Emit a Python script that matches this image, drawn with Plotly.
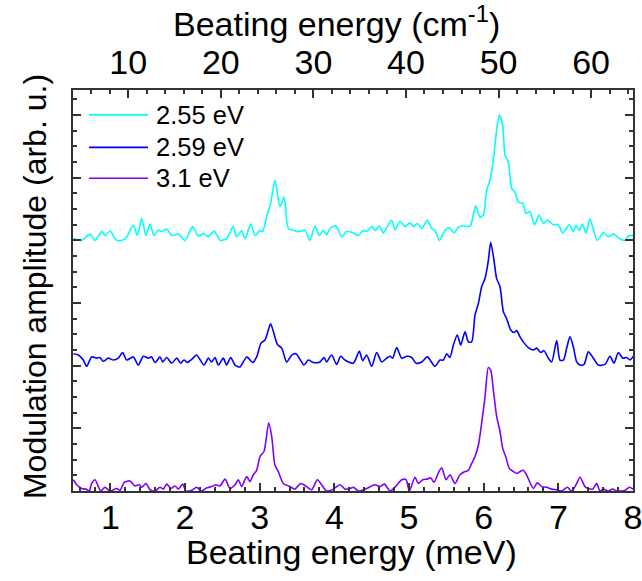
import plotly.graph_objects as go

# ---------------- data ----------------
labels = ["2.55 eV", "2.59 eV", "3.1 eV"]
colors = ["#00FFFF", "#0000FF", "#8000FF"]

# 2.55 eV (plotted with vertical offset of 4)
x_255 = [0.505, 0.616, 0.728, 0.795, 0.884, 0.929, 0.996, 1.085, 1.197, 1.308, 1.362, 1.420, 1.478,
         1.531, 1.585, 1.643, 1.688, 1.755, 1.822, 1.911, 2.000, 2.103, 2.179, 2.246, 2.313, 2.389,
         2.469, 2.558, 2.647, 2.692, 2.759, 2.804, 2.880, 2.938, 3.005, 3.040, 3.094, 3.147, 3.205,
         3.272, 3.326, 3.384, 3.451, 3.518, 3.607, 3.674, 3.741, 3.799, 3.853, 3.897, 3.942, 4.022,
         4.098, 4.165, 4.255, 4.322, 4.388, 4.433, 4.500, 4.545, 4.603, 4.656, 4.701, 4.768, 4.813,
         4.880, 4.947, 5.013, 5.058, 5.112, 5.170, 5.246, 5.304, 5.348, 5.406, 5.482, 5.540, 5.603,
         5.661, 5.719, 5.772, 5.826, 5.893, 5.951, 5.996, 6.040, 6.085, 6.130, 6.175, 6.210, 6.255,
         6.286, 6.331, 6.375, 6.420, 6.465, 6.523, 6.567, 6.621, 6.679, 6.741, 6.799, 6.853, 6.933,
         7.000, 7.058, 7.147, 7.201, 7.237, 7.281, 7.322, 7.371, 7.424, 7.522, 7.603, 7.670, 7.746,
         7.817, 7.893, 7.938, 8.004]
y_255 = [4.03, 4.00, 4.10, 4.00, 4.14, 4.08, 4.15, 4.00, 4.02, 4.24, 4.08, 4.35, 4.08,
         4.26, 4.08, 4.16, 4.14, 4.18, 4.08, 4.10, 4.00, 4.22, 4.07, 4.11, 4.06, 4.15,
         4.00, 4.03, 4.22, 4.06, 4.15, 4.03, 4.26, 4.08, 4.16, 4.14, 4.38, 4.59, 4.96,
         4.54, 4.69, 4.19, 4.16, 4.14, 4.16, 4.00, 4.23, 4.08, 4.16, 4.09, 4.19, 4.23,
         4.06, 4.14, 4.12, 4.08, 4.16, 4.14, 4.22, 4.16, 4.23, 4.12, 4.20, 4.32, 4.17,
         4.30, 4.22, 4.28, 4.22, 4.27, 4.19, 4.32, 4.19, 4.16, 4.00, 4.16, 4.20, 4.12,
         4.21, 4.23, 4.22, 4.24, 4.55, 4.37, 4.40, 4.80, 4.96, 5.28, 5.78, 6.00, 5.84,
         5.36, 5.25, 4.83, 4.77, 4.61, 4.59, 4.43, 4.46, 4.25, 4.40, 4.27, 4.32, 4.25,
         4.25, 4.12, 4.25, 4.14, 4.24, 4.16, 4.26, 4.12, 4.34, 4.00, 4.12, 4.06, 4.10,
         4.03, 4.00, 4.07, 4.08]

# 2.59 eV (plotted with vertical offset of 2)
x_259 = [0.505, 0.572, 0.638, 0.683, 0.750, 0.817, 0.862, 0.906, 0.973, 1.040, 1.107, 1.165, 1.219,
         1.308, 1.375, 1.442, 1.509, 1.554, 1.598, 1.665, 1.701, 1.755, 1.822, 1.889, 1.942, 1.987,
         2.031, 2.089, 2.156, 2.254, 2.313, 2.357, 2.402, 2.447, 2.513, 2.558, 2.612, 2.670, 2.737,
         2.826, 2.906, 2.960, 3.018, 3.072, 3.116, 3.147, 3.192, 3.237, 3.295, 3.362, 3.429, 3.487,
         3.540, 3.594, 3.652, 3.719, 3.808, 3.862, 3.897, 3.964, 4.031, 4.085, 4.143, 4.255, 4.335,
         4.380, 4.433, 4.500, 4.567, 4.634, 4.701, 4.746, 4.781, 4.835, 4.902, 4.969, 5.036, 5.094,
         5.170, 5.246, 5.348, 5.415, 5.460, 5.505, 5.549, 5.594, 5.647, 5.692, 5.750, 5.795, 5.839,
         5.884, 5.929, 5.973, 6.018, 6.063, 6.094, 6.138, 6.174, 6.219, 6.264, 6.308, 6.362, 6.407,
         6.442, 6.487, 6.531, 6.598, 6.665, 6.710, 6.763, 6.808, 6.866, 6.911, 6.978, 7.022, 7.067,
         7.112, 7.156, 7.201, 7.246, 7.290, 7.344, 7.402, 7.469, 7.536, 7.625, 7.692, 7.746, 7.804,
         7.862, 7.915, 7.960, 8.004]
y_259 = [2.19, 2.17, 2.09, 1.99, 2.14, 2.12, 2.13, 2.07, 2.12, 2.09, 2.12, 2.21, 2.09,
         2.14, 2.01, 2.15, 2.12, 2.14, 2.05, 2.14, 2.06, 2.13, 2.04, 2.12, 2.04, 2.09,
         2.05, 2.10, 2.17, 2.01, 2.12, 2.06, 2.13, 2.01, 2.12, 2.01, 2.13, 2.01, 1.98,
         2.14, 2.05, 2.14, 2.36, 2.41, 2.57, 2.67, 2.51, 2.34, 2.28, 2.06, 2.17, 2.19,
         2.10, 2.01, 2.09, 2.05, 2.06, 2.13, 2.06, 2.17, 2.02, 2.15, 2.09, 2.04, 2.23,
         2.08, 2.17, 1.99, 2.21, 2.06, 2.12, 2.15, 2.12, 2.29, 2.12, 2.15, 2.13, 2.04,
         2.06, 2.14, 1.99, 2.09, 2.09, 2.19, 2.13, 2.33, 2.49, 2.33, 2.54, 2.38, 2.38,
         2.81, 2.99, 3.26, 3.39, 3.68, 3.97, 3.68, 3.39, 3.26, 2.86, 2.75, 2.57, 2.53,
         2.56, 2.46, 2.38, 2.29, 2.25, 2.28, 2.21, 2.24, 2.12, 2.06, 2.40, 2.09, 2.09,
         2.28, 2.46, 2.30, 2.06, 2.01, 2.02, 2.22, 2.12, 2.01, 2.02, 2.15, 2.04, 2.21,
         2.12, 2.13, 2.09, 2.15]

# 3.1 eV (no offset)
x_31 = [0.505, 0.549, 0.616, 0.674, 0.719, 0.750, 0.795, 0.840, 0.871, 0.929, 0.996, 1.085, 1.129,
        1.188, 1.263, 1.330, 1.389, 1.420, 1.478, 1.531, 1.598, 1.665, 1.710, 1.755, 1.813, 1.866,
        1.911, 1.969, 2.013, 2.089, 2.156, 2.223, 2.290, 2.357, 2.415, 2.469, 2.536, 2.603, 2.670,
        2.714, 2.759, 2.826, 2.870, 2.915, 2.960, 3.004, 3.058, 3.085, 3.121, 3.161, 3.205, 3.250,
        3.317, 3.406, 3.473, 3.549, 3.629, 3.696, 3.772, 3.830, 3.897, 3.987, 4.076, 4.143, 4.210,
        4.255, 4.322, 4.433, 4.545, 4.612, 4.670, 4.746, 4.813, 4.902, 4.960, 5.005, 5.080, 5.125,
        5.183, 5.246, 5.290, 5.335, 5.393, 5.438, 5.496, 5.549, 5.616, 5.683, 5.750, 5.795, 5.839,
        5.884, 5.929, 5.973, 6.018, 6.063, 6.094, 6.130, 6.174, 6.219, 6.255, 6.295, 6.344, 6.398,
        6.442, 6.487, 6.531, 6.585, 6.665, 6.719, 6.777, 6.844, 6.911, 6.978, 7.045, 7.121, 7.179,
        7.246, 7.290, 7.357, 7.402, 7.460, 7.513, 7.558, 7.603, 7.670, 7.728, 7.781, 7.835, 7.893,
        7.951, 8.004]
y_31 = [0.18, 0.10, 0.04, 0.03, 0.00, 0.12, 0.18, 0.07, 0.00, 0.06, 0.00, 0.04, 0.01,
        0.14, 0.16, 0.08, 0.10, 0.06, 0.12, 0.02, 0.00, 0.06, 0.03, 0.11, 0.04, 0.08,
        0.03, 0.11, 0.00, 0.01, 0.06, 0.00, 0.05, 0.07, 0.10, 0.08, 0.19, 0.04, 0.10,
        0.18, 0.07, 0.23, 0.15, 0.26, 0.33, 0.55, 0.63, 0.81, 1.09, 0.87, 0.41, 0.31,
        0.12, 0.07, 0.03, 0.12, 0.07, 0.02, 0.18, 0.10, 0.00, 0.03, 0.10, 0.03, 0.04,
        0.06, 0.00, 0.04, 0.10, 0.07, 0.11, 0.00, 0.06, 0.18, 0.18, 0.00, 0.22, 0.12,
        0.18, 0.19, 0.21, 0.14, 0.29, 0.37, 0.18, 0.26, 0.12, 0.26, 0.31, 0.33, 0.44,
        0.55, 0.73, 1.08, 1.50, 1.97, 1.93, 1.61, 1.19, 0.95, 0.68, 0.55, 0.36, 0.31,
        0.28, 0.31, 0.33, 0.23, 0.04, 0.13, 0.07, 0.06, 0.03, 0.02, 0.00, 0.06, 0.00,
        0.12, 0.22, 0.07, 0.04, 0.03, 0.12, 0.00, 0.03, 0.00, 0.03, 0.00, 0.00, 0.01,
        0.06, 0.03]

xs = [x_255, x_259, x_31]
ys = [y_255, y_259, y_31]

# axis settings
x_range = [0.5, 8.0]
y_range = [0.0, 6.4]
MEV_TO_CM = 8.0655
bottom_ticks = [1, 2, 3, 4, 5, 6, 7, 8]
top_ticks = [10, 20, 30, 40, 50, 60]

x_title = "Beating energy (meV)"
x2_title = "Beating energy (cm<sup>-1</sup>)"
y_title = "Modulation amplitude (arb. u.)"

FONT = "Liberation Sans, Arial, sans-serif"
AX = "#333333"
HSIZE = 34   # horizontal texts
VSIZE = 32   # vertical title

fig = go.Figure()
for lab, col, x, y in zip(labels, colors, xs, ys):
    fig.add_trace(go.Scatter(x=x, y=y, mode="lines", name=lab, showlegend=False,
                             line=dict(color=col, width=1.6, shape="spline", smoothing=0.7),
                             xaxis="x", yaxis="y"))

# invisible trace for the top (cm^-1) axis
fig.add_trace(go.Scatter(x=[x_range[0] * MEV_TO_CM, x_range[1] * MEV_TO_CM], y=[0, 0],
                         mode="lines", line=dict(width=0), opacity=0, showlegend=False,
                         hoverinfo="skip", xaxis="x2", yaxis="y"))

# manual legend (line sample + label), in paper coordinates
legend_rows = [0.938, 0.857, 0.780]
shapes = []
annotations = []
for lab, col, yr in zip(labels, colors, legend_rows):
    shapes.append(dict(type="line", xref="paper", yref="paper", x0=0.0286, x1=0.134, y0=yr, y1=yr,
                       line=dict(color=col, width=1.6)))
    annotations.append(dict(xref="paper", yref="paper", x=0.145, y=yr, xanchor="left", yanchor="middle",
                            text=lab, showarrow=False, font=dict(size=25.5, color="black")))

# axis titles as annotations (for exact placement)
annotations.append(dict(xref="paper", yref="paper", x=0.498, y=-0.152, xanchor="center", yanchor="middle",
                        text=x_title, showarrow=False, font=dict(size=HSIZE, color="black")))
annotations.append(dict(xref="paper", yref="paper", x=0.471, y=1.172, xanchor="center", yanchor="middle",
                        text=x2_title, showarrow=False, font=dict(size=HSIZE, color="black")))
annotations.append(dict(xref="paper", yref="paper", x=-0.0679, y=0.511, xanchor="center", yanchor="middle",
                        text=y_title, textangle=-90, showarrow=False, font=dict(size=VSIZE, color="black")))

fig.update_layout(
    width=642, height=581,
    margin=dict(l=73, r=9, t=90, b=90, autoexpand=False),
    paper_bgcolor="white", plot_bgcolor="white",
    font=dict(family=FONT, size=HSIZE, color="black"),
    showlegend=False,
    shapes=shapes, annotations=annotations,
    xaxis=dict(range=x_range, tickvals=bottom_ticks, ticks="inside", ticklen=8, tickwidth=1.5,
               tickcolor=AX, showline=True, linecolor=AX, linewidth=2, showgrid=False,
               zeroline=False, tickfont=dict(size=HSIZE), mirror=False, automargin=False,
               ticklabeloverflow="allow", ticklabelstandoff=-5,
               minor=dict(dtick=0.2, tick0=0, ticks="inside", ticklen=4, tickcolor=AX, tickwidth=1.5)),
    xaxis2=dict(range=[x_range[0] * MEV_TO_CM, x_range[1] * MEV_TO_CM], overlaying="x", side="top",
                tickvals=top_ticks, ticks="inside", ticklen=8, tickwidth=1.5, tickcolor=AX,
                showline=True, linecolor=AX, linewidth=2, showgrid=False, zeroline=False,
                tickfont=dict(size=HSIZE), automargin=False, ticklabeloverflow="allow",
                minor=dict(dtick=2, tick0=0, ticks="inside", ticklen=4, tickcolor=AX, tickwidth=1.5)),
    yaxis=dict(range=y_range, dtick=1, tick0=0, ticks="inside", ticklen=8, tickwidth=1.5,
               tickcolor=AX, showline=True, linecolor=AX, linewidth=2, showgrid=False,
               zeroline=False, showticklabels=False, mirror="ticks", automargin=False,
               minor=dict(dtick=0.25, tick0=0, ticks="inside", ticklen=4, tickcolor=AX, tickwidth=1.5)),
)

fig.write_html("out.html")
